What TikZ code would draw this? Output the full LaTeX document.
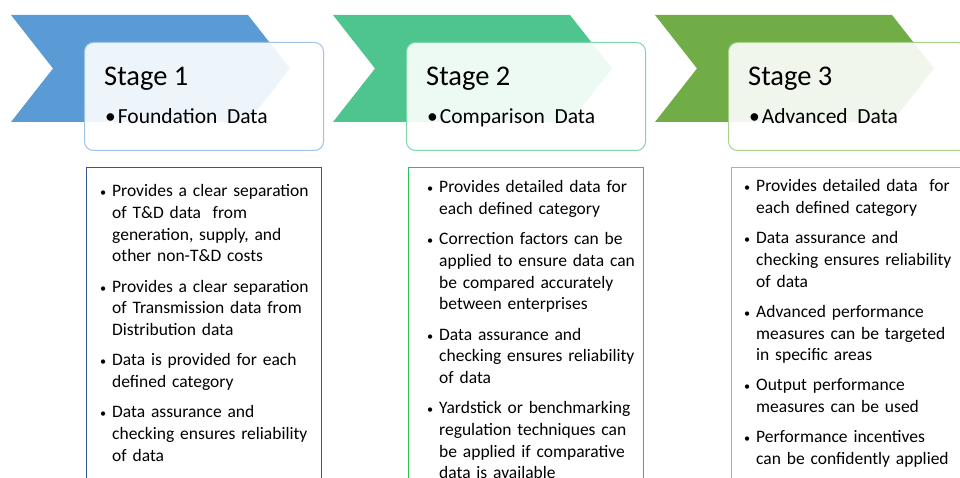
\documentclass[tikz,border=0pt]{standalone}
\usepackage{fontspec}
\setmainfont{Carlito}
\usetikzlibrary{calc,positioning}
\definecolor{chevblue}{HTML}{5B9BD5}
\definecolor{chevteal}{HTML}{4EC58E}
\definecolor{chevgreen}{HTML}{70AD47}
\definecolor{headblue}{HTML}{9DC3E6}
\definecolor{headteal}{HTML}{7ED6AA}
\definecolor{headgreen}{HTML}{A9D18E}
\definecolor{listblue}{HTML}{2F5597}
\definecolor{listteal}{HTML}{2EC05A}
\definecolor{listgreen}{HTML}{92D050}
\newcommand{\stagebul}{\makebox[0pt][r]{\scalebox{0.7}{\textbullet}\hspace{6pt}}}
\tikzset{
    headbox/.style={draw=#1, fill=white, fill opacity=0.9, text opacity=1,
    rounded corners=9pt, line width=1pt, minimum width=239pt,
    minimum height=108pt, anchor=north west},
    stagetitle/.style={anchor=base west, inner sep=0pt, font=\fontsize{28.5}{34}\selectfont},
    stagesub/.style={anchor=base west, inner sep=0pt, font=\fontsize{21.5}{26}\selectfont},
    listbox/.style={draw=#1, line width=1pt, minimum width=235pt,
    minimum height=340pt, anchor=north west},
    listtext/.style={anchor=north west, inner sep=0pt, align=left,
    text width=215pt, font=\fontsize{17.5}{21.7}\selectfont}
}
\begin{document}
\begin{tikzpicture}[x=1pt, y=-1pt]
    \useasboundingbox (0,0) rectangle (960,478);
    \clip (0,0) rectangle (960,478);
    % stage headers
    \foreach \i/\n/\chev/\head/\sub in {0/1/chevblue/headblue/Foundation\ \ Data,
        1/2/chevteal/headteal/Comparison\ \ Data,
        2/3/chevgreen/headgreen/Advanced\ \ Data}{
        \begin{scope}[xshift={\i*322pt}]
            \fill[\chev] (11,15) -- (248,15) -- (290,68.5) -- (248,122)
                -- (11,122) -- (53,68.5) -- cycle;
            \node[headbox=\head] (head\n) at (84,42) {};
            \node[stagetitle] (title\n) at (104,85.5) {Stage \n};
            \node[stagesub] (sub\n) at (105,124) {\textbullet\hspace{2pt}\sub};
        \end{scope}
    }
    % lists
    \node[listbox=listblue] (list1) at (86,167) {};
    \node[listbox=listteal] (list2) at (408,167) {};
    \node[listbox=listgreen] (list3) at (731,167) {};

    \node[listtext] (text1) at (112,184.5) {%
        \stagebul Provides a clear separation\\ of T\&D data\ \ from\\
        generation, supply, and\\ other non-T\&D costs\\[8.5pt]
        \stagebul Provides a clear separation\\ of Transmission data from\\
        Distribution data\\[8.5pt]
        \stagebul Data is provided for each\\ defined category\\[8.5pt]
        \stagebul Data assurance and\\ checking ensures reliability\\ of data};
    \node[listtext] (text2) at (439,180.5) {%
        \stagebul Provides detailed data for\\ each defined category\\[8.5pt]
        \stagebul Correction factors can be\\ applied to ensure data can\\
        be compared accurately\\ between enterprises\\[8.5pt]
        \stagebul Data assurance and\\ checking ensures reliability\\ of data\\[8.5pt]
        \stagebul Yardstick or benchmarking\\ regulation techniques can\\
        be applied if comparative\\ data is available};
    \node[listtext] (text3) at (756,179.5) {%
        \stagebul Provides detailed data\ \ for\\ each defined category\\[8.5pt]
        \stagebul Data assurance and\\ checking ensures reliability\\ of data\\[8.5pt]
        \stagebul Advanced performance\\ measures can be targeted\\
        in specific areas\\[8.5pt]
        \stagebul Output performance\\ measures can be used\\[8.5pt]
        \stagebul Performance incentives\\ can be confidently applied};
\end{tikzpicture}
\end{document}
